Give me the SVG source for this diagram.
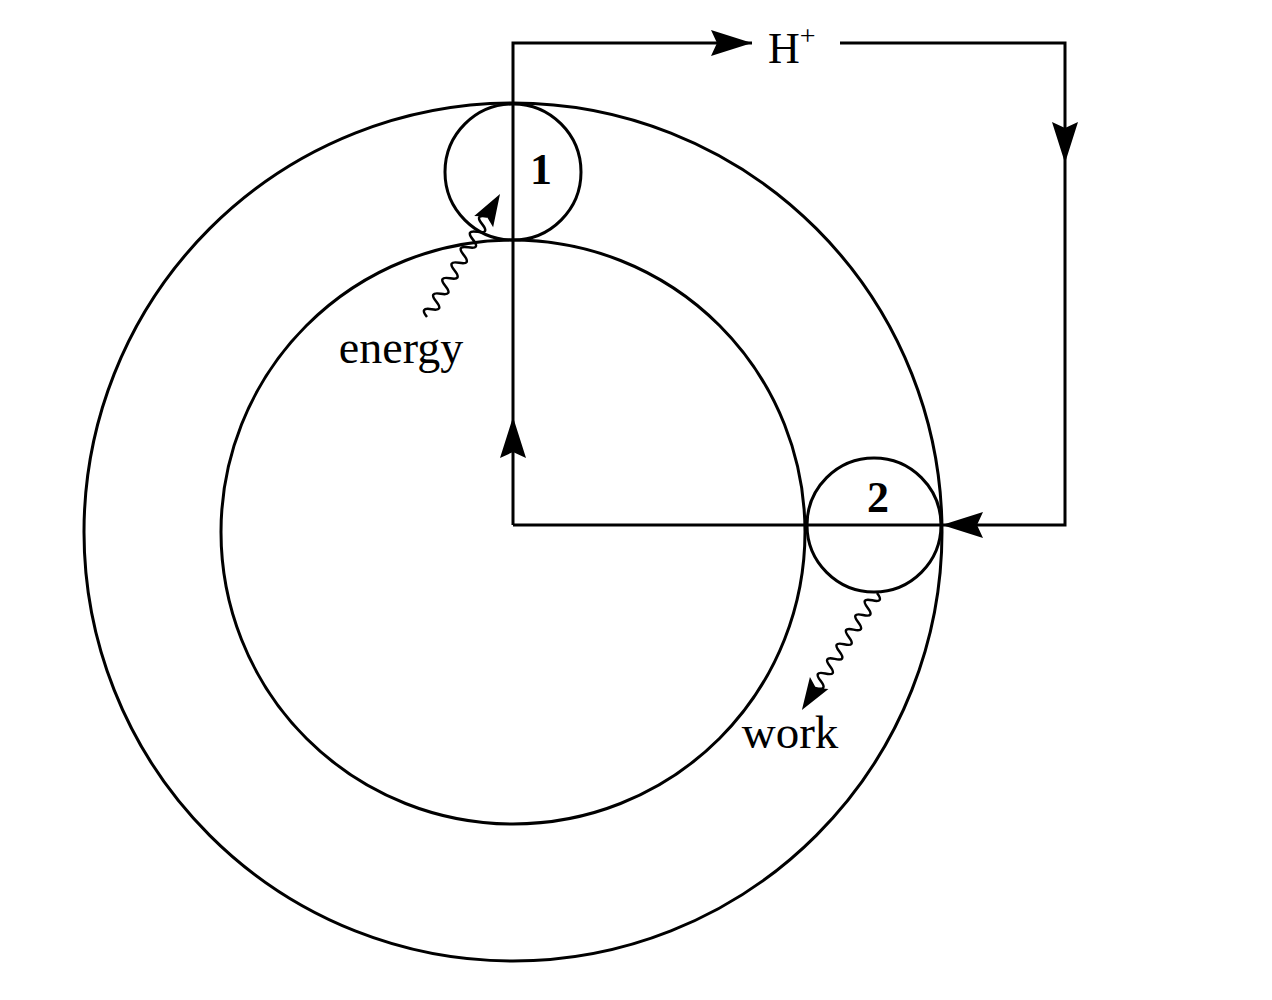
<svg xmlns="http://www.w3.org/2000/svg" xmlns:xlink="http://www.w3.org/1999/xlink" width="1272" height="1000" viewBox="0 0 1272 1000">
<style>
.ln{fill:none;stroke:#000;stroke-width:3}
.wv{fill:none;stroke:#000;stroke-width:2.5}
.t{font-family:"Liberation Serif","Times New Roman",serif;fill:#000}
.b{font-weight:bold;text-anchor:middle}
</style>
<defs>
<path id="ah" d="M0,0 L-41,-13 L-35,0 L-41,13 Z" fill="#000"/>
<path id="sah" d="M0,0 L-32,-11 L-26,0 L-32,11 Z" fill="#000"/>
</defs>
<rect width="1272" height="1000" fill="#fff"/>
<g id="outer-ring"><circle class="ln" cx="513" cy="532" r="429"/></g>
<g id="inner-ring"><circle class="ln" cx="513" cy="532" r="292"/></g>
<g id="connectors">
<polyline class="ln" points="513,525 513,43 752,43"/>
<polyline class="ln" points="840,43 1065,43 1065,525 513,525"/>
<use xlink:href="#ah" transform="translate(752,43)"/>
<use xlink:href="#ah" transform="translate(1065,163) rotate(90)"/>
<use xlink:href="#ah" transform="translate(942,525) rotate(180)"/>
<use xlink:href="#ah" transform="translate(513,417) rotate(-90)"/>
</g>
<g id="node-1">
<circle class="ln" cx="513" cy="172" r="68"/>
<text class="t b" x="541" y="184" font-size="44">1</text>
</g>
<g id="node-2">
<circle class="ln" cx="874" cy="525" r="67"/>
<text class="t b" x="878" y="512" font-size="44">2</text>
</g>
<g id="energy">
<g transform="translate(427,317) rotate(-59.3)">
<path class="wv" d="M0,0 Q4.5,-12 9,0 T18,0 T27,0 T36,0 T45,0 T54,0 T63,0 T72,0 T81,0 T90,0 T99,0 T108,0 T117,0 L120,0"/>
<use xlink:href="#sah" transform="translate(143,0)"/>
</g>
<text class="t" x="401" y="363" font-size="46" text-anchor="middle">energy</text>
</g>
<g id="work">
<g transform="translate(877,593) rotate(122.7)">
<path class="wv" d="M0,0 Q4.35,-12 8.7,0 T17.4,0 T26.1,0 T34.8,0 T43.5,0 T52.2,0 T60.9,0 T69.6,0 T78.3,0 T87,0 T95.7,0 T104.4,0 T113.1,0 L116,0"/>
<use xlink:href="#sah" transform="translate(139,0)"/>
</g>
<text class="t" x="790" y="748" font-size="47" text-anchor="middle">work</text>
</g>
<g id="h-plus">
<text class="t" x="768" y="63" font-size="44">H<tspan font-size="28" dy="-18">+</tspan></text>
</g>
</svg>
